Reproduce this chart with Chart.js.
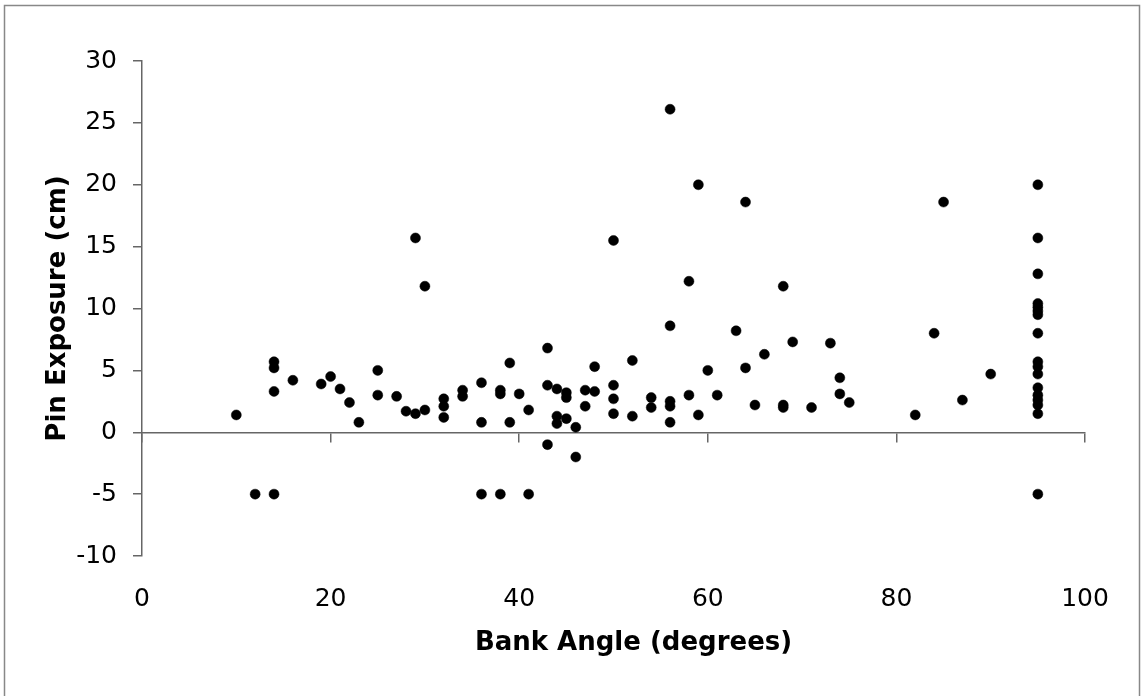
<!DOCTYPE html>
<html>
<head>
	<meta charset="utf-8">
	<title>Pin Exposure vs Bank Angle</title>
	<script src="https://cdn.jsdelivr.net/npm/chart.js@4.4.0/dist/chart.umd.min.js"></script>
	<style>
		body { margin: 0; background: #fff; }
	</style>
</head>
<body>

	<canvas id="mychart" width="1143" height="696"></canvas>

	<script type="text/javascript">

		// bank angle (degrees) and pin exposure (cm), one entry per pin
		const bankAngle = [
			10, 12, 14, 14, 14, 14, 16, 19, 20, 21, 22, 23, 25, 25, 27, 28, 29, 29, 30, 30,
			32, 32, 32, 34, 34, 36, 36, 36, 38, 38, 38, 39, 39, 40, 41, 41, 43, 43, 43, 44,
			44, 44, 45, 45, 45, 46, 46, 47, 47, 48, 48, 50, 50, 50, 50, 52, 52, 54, 54, 56,
			56, 56, 56, 56, 58, 58, 59, 59, 60, 61, 63, 64, 64, 65, 66, 68, 68, 68, 69, 71,
			73, 74, 74, 75, 82, 84, 85, 87, 90,
			95, 95, 95, 95, 95, 95, 95, 95, 95, 95, 95, 95, 95, 95, 95, 95, 95
		];
		const pinExposure = [
			1.4, -5, 5.7, 5.2, 3.3, -5, 4.2, 3.9, 4.5, 3.5, 2.4, 0.8, 5.0, 3.0, 2.9, 1.7, 15.7, 1.5, 11.8, 1.8,
			2.7, 2.1, 1.2, 3.4, 2.9, 4.0, 0.8, -5, 3.4, 3.1, -5, 5.6, 0.8, 3.1, 1.8, -5, 6.8, 3.8, -1.0, 3.5,
			1.3, 0.7, 3.2, 2.8, 1.1, 0.4, -2.0, 3.4, 2.1, 5.3, 3.3, 15.5, 3.8, 2.7, 1.5, 5.8, 1.3, 2.8, 2.0, 26.1,
			8.6, 2.5, 2.1, 0.8, 12.2, 3.0, 20.0, 1.4, 5.0, 3.0, 8.2, 18.6, 5.2, 2.2, 6.3, 11.8, 2.2, 2.0, 7.3, 2.0,
			7.2, 4.4, 3.1, 2.4, 1.4, 8.0, 18.6, 2.6, 4.7,
			20.0, 15.7, 12.8, 10.4, 10.1, 9.8, 9.5, 8.0, 5.7, 5.3, 4.7, 3.6, 3.0, 2.6, 2.2, 1.5, -5
		];

		const xTitle = 'Bank Angle (degrees)';
		const yTitle = 'Pin Exposure (cm)';

		const FONT = '"DejaVu Sans", Verdana, sans-serif';

		// grey frame round the whole chart and the x axis title
		const framePlugin = {
			id: 'frame',
			afterDraw(chart) {
				const ctx = chart.ctx;
				const area = chart.chartArea;
				ctx.save();
				ctx.strokeStyle = '#888';
				ctx.lineWidth = 1.5;
				ctx.strokeRect(4.5, 5.5, 1135, 700);
				ctx.fillStyle = '#000';
				ctx.font = 'bold 26px ' + FONT;
				ctx.textAlign = 'center';
				ctx.textBaseline = 'alphabetic';
				ctx.fillText(xTitle, (area.left + area.right) / 2 + 20, 650);
				ctx.restore();
			}
		};

		const points = bankAngle.map((x, i) => ({ x: x, y: pinExposure[i] }));

		const ctx = document.getElementById('mychart').getContext('2d');
		const myChart = new Chart(ctx, {
			type: 'scatter',
			data: {
				datasets: [{
					data: points,
					backgroundColor: '#000',
					borderColor: '#000',
					borderWidth: 0.5,
					pointRadius: 5,
					xAxisID: 'x',
					yAxisID: 'y'
				}]
			},
			options: {
				responsive: false,
				animation: false,
				layout: { padding: { left: 4, top: 61, right: 58, bottom: 0 } },
				plugins: {
					legend: { display: false },
					tooltip: { enabled: false }
				},
				scales: {
					x: {
						type: 'linear',
						min: 0,
						max: 100,
						position: { y: 0 },
						ticks: { display: false, stepSize: 20 },
						grid: { drawOnChartArea: false, tickLength: 9, color: '#666', lineWidth: 1.5 },
						border: { color: '#666', width: 1.5 }
					},
					xLabels: {
						type: 'linear',
						axis: 'x',
						position: 'bottom',
						min: 0,
						max: 100,
						ticks: { stepSize: 20, padding: 28, color: '#000', font: { family: FONT, size: 25 } },
						grid: { display: false, drawTicks: false },
						border: { display: false },
						afterFit(scale) { scale.height = 140; }
					},
					y: {
						min: -10,
						max: 30,
						ticks: { stepSize: 5, padding: 16, color: '#000', font: { family: FONT, size: 25 } },
						grid: { drawOnChartArea: false, tickLength: 9, color: '#666', lineWidth: 1.5 },
						border: { color: '#666', width: 1.5 },
						title: {
							display: true,
							text: yTitle,
							color: '#000',
							font: { family: FONT, size: 26, weight: 'bold' },
							padding: { top: 39, bottom: 0 }
						},
						afterFit(scale) { scale.width = 138; }
					}
				}
			},
			plugins: [framePlugin]
		});

	</script>

</body>
</html>
